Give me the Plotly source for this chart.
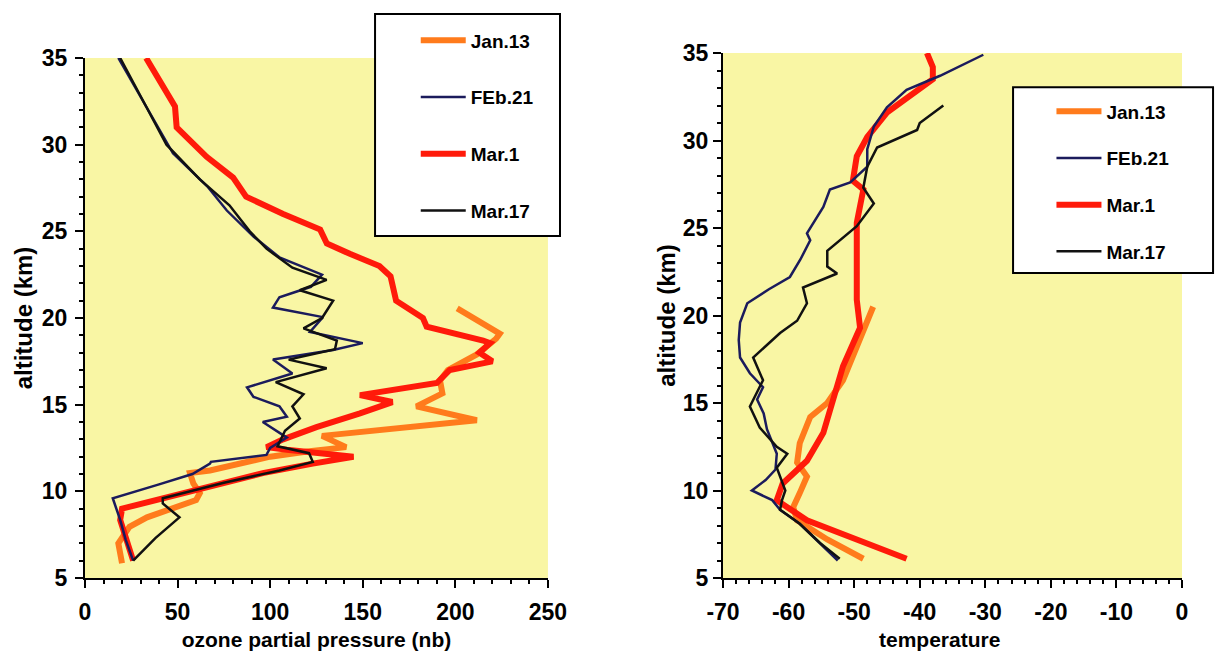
import plotly.graph_objects as go

# ---------------- data: ozone partial pressure (nb) vs altitude (km) ----------------
oz_jan13_alt = [5.85, 7.0, 7.95, 8.5, 9.5, 9.9, 10.45, 11.05, 11.2, 12.0, 12.3, 12.55, 13.2, 14.1,
                14.9, 15.65, 16.4, 17.0, 17.9, 18.8, 19.1, 20.55]
oz_jan13_val = [20, 18, 24, 33.5, 60, 62, 58.5, 56.7, 67.5, 100, 120, 141, 128, 211.6,
                179, 193, 191.7, 196, 211.6, 222, 224, 201]

oz_feb21_alt = [6.0, 7.2, 8.35, 9.6, 10.4, 11.0, 11.6, 11.7, 12.1, 12.5, 13.1, 14.0, 14.3, 14.9,
                15.45, 16.0, 16.8, 17.6, 18.15, 18.55, 19.2, 20.05, 20.6, 21.2, 21.8, 22.5, 23.5,
                24.7, 26.2, 27.6, 29.5, 32.2, 35.0]
oz_feb21_val = [26, 22, 19, 15, 40, 58, 67.5, 68, 98, 100, 109, 96, 109, 105,
                91, 87.5, 112, 101.5, 134, 150, 121.5, 128.5, 101.5, 105, 122, 128, 105,
                91, 76.6, 66, 47.5, 33, 18]

oz_mar1_alt = [6.0, 8.35, 9.0, 9.6, 10.25, 11.05, 11.6, 12.0, 12.4, 12.55, 13.0, 13.7, 14.5, 15.15,
               15.55, 15.85, 16.25, 17.0, 17.5, 18.0, 18.55, 18.7, 19.5, 20.0, 21.0, 22.4, 23.0,
               23.7, 24.3, 25.1, 26.0, 27.0, 28.1, 29.3, 31.0, 32.2, 35.0]
oz_mar1_val = [26, 19, 20, 42, 69, 96, 123, 145, 109, 98, 107, 125, 148.5, 166,
               148.5, 166, 190, 197, 220, 213, 218.7, 215, 184.5, 182.5, 168, 165, 159,
               143, 130.6, 127, 107, 87, 80, 65.7, 49.5, 48.6, 33]

oz_mar17_alt = [6.0, 7.3, 8.5, 9.3, 9.6, 10.5, 11.2, 11.7, 12.2, 12.6, 13.5, 14.2, 14.9, 15.6,
                16.3, 17.1, 17.6, 18.2, 18.7, 19.4, 20.0, 21.0, 21.6, 22.2, 22.9, 24.0, 25.0,
                26.5, 28.0, 30.0, 32.2, 35.0]
oz_mar17_val = [26, 38, 51, 42, 42, 75, 105, 123, 121, 104, 108, 116, 112, 118,
                103, 130.5, 110, 135, 136, 118, 128, 134, 116, 130.5, 112, 98, 89,
                78, 62, 44, 33, 19]

# ---------------- data: temperature vs altitude (km) ----------------
t_jan13_alt = [6.1, 7.2, 8.3, 9.05, 9.85, 10.8, 11.6, 12.7, 14.2, 15.0, 16.3, 19.2, 20.5]
t_jan13_val = [-48.6, -54.1, -58.7, -59.3, -58.3, -57.2, -58.7, -58.3, -56.7, -54.1, -51.7, -48.6, -47.1]

t_feb21_alt = [6.0, 7.0, 8.1, 8.9, 9.45, 10.0, 10.6, 11.2, 12.1, 13.5, 14.4, 15.2, 15.9, 16.7,
               17.6, 18.6, 19.6, 20.7, 21.5, 22.2, 23.2, 24.3, 24.7, 26.2, 27.2, 27.6, 28.5,
               29.5, 30.8, 31.9, 32.9, 33.7, 34.9]
t_feb21_val = [-52.5, -55.2, -58.3, -61.3, -62.5, -65.6, -63.5, -62.0, -61.8, -63.3, -63.8, -64.8, -63.9, -65.9,
               -67.4, -67.6, -67.4, -66.3, -63.0, -59.8, -58.2, -56.7, -57.2, -54.7, -53.7, -50.6, -48,
               -48, -47, -45, -42, -36.9, -30.3]

t_mar1_alt = [6.1, 7.35, 8.3, 9.05, 9.45, 10.4, 11.7, 13.3, 15.2, 17.1, 19.3, 20.9, 22.4, 25.3,
              27.2, 27.7, 29.1, 30.2, 31.6, 32.7, 33.5, 34.2, 35.0]
t_mar1_val = [-42, -50.6, -57.2, -60.2, -61.8, -60.9, -57.2, -54.7, -53.2, -51.7, -49.1, -49.6, -49.6, -49.6,
              -48.6, -50.2, -49.6, -48, -45, -41, -38, -38, -38.9]

t_mar17_alt = [6.1, 7.0, 8.1, 8.9, 9.45, 10.0, 11.3, 12.1, 12.5, 13.6, 14.8, 16.3, 17.6, 19.0,
               19.7, 20.7, 21.6, 22.4, 22.8, 23.7, 25.1, 26.4, 27.3, 28.5, 29.6, 30.6, 31.0, 32.0]
t_mar17_val = [-52.2, -55.2, -58.3, -61.3, -61.0, -60.5, -61.8, -60.2, -61.8, -64.4, -65.9, -63.9, -65.4, -61.3,
               -58.7, -57.2, -57.8, -52.6, -54.1, -54.1, -49.6, -47, -48.6, -48, -46.5, -40.4, -40, -36.4]

# tick labels of the temperature axis (plain hyphen as in the original)
temp_tick_vals = [-70, -60, -50, -40, -30, -20, -10, 0]
temp_tick_text = ["-70", "-60", "-50", "-40", "-30", "-20", "-10", "0"]

series_names = ["Jan.13", "FEb.21", "Mar.1", "Mar.17"]
colors = {"Jan.13": "#ff7b1c", "FEb.21": "#1b1b5c", "Mar.1": "#ff1a0a", "Mar.17": "#111111"}
widths = {"Jan.13": 6, "FEb.21": 2.5, "Mar.1": 6, "Mar.17": 2.5}
rank = {"Jan.13": 1, "FEb.21": 2, "Mar.1": 3, "Mar.17": 4}

ozone = {"Jan.13": (oz_jan13_val, oz_jan13_alt), "FEb.21": (oz_feb21_val, oz_feb21_alt),
         "Mar.1": (oz_mar1_val, oz_mar1_alt), "Mar.17": (oz_mar17_val, oz_mar17_alt)}
temp = {"Jan.13": (t_jan13_val, t_jan13_alt), "FEb.21": (t_feb21_val, t_feb21_alt),
        "Mar.1": (t_mar1_val, t_mar1_alt), "Mar.17": (t_mar17_val, t_mar17_alt)}

draw_order = ["Jan.13", "Mar.1", "FEb.21", "Mar.17"]

fig = go.Figure()
for name in draw_order:
    x, y = ozone[name]
    fig.add_trace(go.Scatter(x=x, y=y, mode="lines", name=name, xaxis="x", yaxis="y",
                             line=dict(color=colors[name], width=widths[name]),
                             legend="legend", legendgroup="L" + name, legendrank=rank[name]))
for name in draw_order:
    x, y = temp[name]
    fig.add_trace(go.Scatter(x=x, y=y, mode="lines", name=name, xaxis="x2", yaxis="y2",
                             line=dict(color=colors[name], width=widths[name]),
                             legend="legend2", legendgroup="R" + name, legendrank=rank[name]))

tickfont = dict(family="Liberation Sans", size=23, color="black", weight="bold")
xtitlefont = dict(family="Liberation Sans", size=21, color="black", weight="bold")
ytitlefont = dict(family="Liberation Sans", size=24, color="black", weight="bold")

def axis_common(rng, dtick, mdtick):
    return dict(range=rng, dtick=dtick, ticks="outside", ticklen=8, tickwidth=2, tickcolor="black",
                showline=True, linecolor="black", linewidth=2, showgrid=False, zeroline=False,
                tickfont=tickfont, automargin=False,
                minor=dict(dtick=mdtick, ticks="outside", ticklen=4, tickwidth=1.5, tickcolor="black",
                           showgrid=False))

xa = axis_common([0, 250], 50, 10)
xa.update(domain=[0, 0.422], anchor="y", ticklabelstandoff=4,
          title=dict(text="ozone partial pressure (nb)", font=xtitlefont, standoff=12))
ya = axis_common([5, 35], 5, 1)
ya.update(domain=[0, 0.9905], anchor="x", ticklabelstandoff=3,
          title=dict(text="altitude (km)", font=ytitlefont, standoff=2))
xa2 = axis_common([-70, 0], 10, 2)
xa2.update(domain=[0.5816, 1], anchor="y2", ticklabelstandoff=4,
           tickmode="array", tickvals=temp_tick_vals, ticktext=temp_tick_text)
ya2 = axis_common([5, 35], 5, 1)
ya2.update(domain=[0, 1], anchor="x2", ticklabelstandoff=0,
           title=dict(text="altitude (km)", font=ytitlefont, standoff=0))

legfont = dict(family="Liberation Sans", size=19, color="black", weight="bold")

fig.update_layout(
    width=1224, height=651,
    margin=dict(l=85, r=42, t=53, b=73, autoexpand=False),
    paper_bgcolor="white",
    plot_bgcolor="#f9f6a4",
    xaxis=xa, yaxis=ya, xaxis2=xa2, yaxis2=ya2,
    showlegend=True,
    legend=dict(x=0.3015, y=1.06, xanchor="left", yanchor="top", bgcolor="rgba(0,0,0,0)",
                borderwidth=0, font=legfont, traceorder="grouped", tracegroupgap=29,
                itemwidth=45),
    legend2=dict(x=0.881, y=0.925, xanchor="left", yanchor="top", bgcolor="rgba(0,0,0,0)",
                 borderwidth=0, font=legfont, traceorder="grouped", tracegroupgap=19,
                 itemwidth=45),
    shapes=[
        dict(type="rect", xref="paper", yref="paper", x0=0.2644, x1=0.433, y0=0.6514, y1=1.0743,
             fillcolor="white", line=dict(color="black", width=2), layer="above"),
        dict(type="rect", xref="paper", yref="paper", x0=0.846, x1=1.0283, y0=0.581, y1=0.935,
             fillcolor="white", line=dict(color="black", width=2), layer="above"),
    ],
    annotations=[
        dict(text="temperature", xref="paper", yref="paper", x=0.779, y=-0.117,
             xanchor="center", yanchor="middle", showarrow=False, font=xtitlefont),
    ],
)

fig.write_html("out.html", post_script="document.body.style.margin='0px';",
               config={"displayModeBar": False})
